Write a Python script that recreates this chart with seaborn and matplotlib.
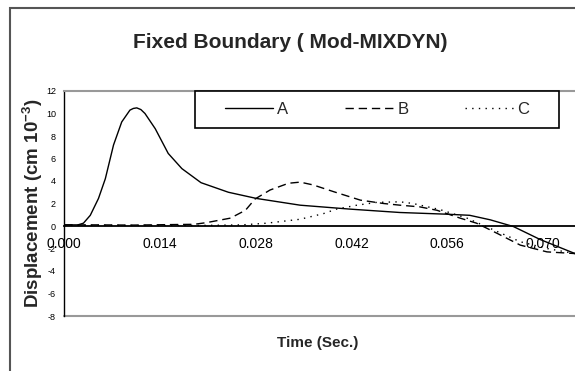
import numpy as np
import pandas as pd
import matplotlib
matplotlib.use("Agg")
import matplotlib.pyplot as plt
import seaborn as sns
from matplotlib.patches import Rectangle

# ---- data ----
time_a = [0.0, 0.002, 0.0028, 0.0038, 0.005, 0.006, 0.0072, 0.0084, 0.0096, 0.0101, 0.0106,
          0.0112, 0.0118, 0.0133, 0.0152, 0.0172, 0.0200, 0.0240, 0.0281, 0.0345, 0.0418,
          0.0491, 0.0559, 0.0593, 0.0623, 0.0657, 0.0696, 0.0747]
disp_a = [0.1, 0.1, 0.25, 0.95, 2.45, 4.2, 7.2, 9.25, 10.3, 10.45, 10.5,
          10.35, 10.0, 8.65, 6.45, 5.1, 3.85, 3.0, 2.45, 1.85, 1.5,
          1.2, 1.05, 0.95, 0.55, -0.05, -1.2, -2.45]

time_b = [0.0, 0.005, 0.010, 0.015, 0.019, 0.0208, 0.0243, 0.0265, 0.0279, 0.0301,
          0.0328, 0.0345, 0.0364, 0.0394, 0.0433, 0.0467, 0.0491, 0.052, 0.0545,
          0.0579, 0.0603, 0.0633, 0.0667, 0.0706, 0.0747]
disp_b = [0.1, 0.1, 0.08, 0.12, 0.15, 0.3, 0.7, 1.4, 2.4, 3.2,
          3.8, 3.9, 3.65, 3.05, 2.3, 2.0, 1.85, 1.7, 1.4,
          0.7, 0.25, -0.65, -1.7, -2.3, -2.45]

time_c = [0.0, 0.010, 0.020, 0.026, 0.0296, 0.0345, 0.0379, 0.0398, 0.0428, 0.0457,
          0.0491, 0.051, 0.055, 0.0589, 0.0628, 0.0667, 0.0706, 0.0747]
disp_c = [0.05, 0.05, 0.05, 0.1, 0.25, 0.6, 1.1, 1.5, 1.85, 2.1,
          2.15, 2.0, 1.45, 0.7, -0.35, -1.4, -2.0, -2.45]

series_names = ["A", "B", "C"]
x_ticks = [0.000, 0.014, 0.028, 0.042, 0.056, 0.070]
y_ticks = [12, 10, 8, 6, 4, 2, 0, -2, -4, -6, -8]

title = "Fixed Boundary ( Mod-MIXDYN)"
x_label = "Time (Sec.)"
y_label = r"Displacement (cm 10$^{\mathbf{-3}}$)"

# ---- build table ----
frames = []
for name, t, v in zip(series_names, [time_a, time_b, time_c], [disp_a, disp_b, disp_c]):
    frames.append(pd.DataFrame({"Time": t, "Disp": v, "Series": name}))
df = pd.concat(frames, ignore_index=True)

sns.set_style("white")
plt.rcParams["font.family"] = ["Liberation Sans", "DejaVu Sans"]
plt.rcParams["mathtext.fontset"] = "custom"
plt.rcParams["mathtext.bf"] = "Liberation Sans:bold"
plt.rcParams["mathtext.rm"] = "Liberation Sans"

W, H = 575, 371
fig = plt.figure(figsize=(W / 100, H / 100), dpi=100)
ax = fig.add_axes([64.3 / W, 1 - 316 / H, 1 - 64.3 / W, (316 - 91) / H])

styles = {"A": "-", "B": (0, (6, 3.5)), "C": (0, (1, 3.8))}
for name in series_names:
    sub = df[df["Series"] == name]
    sns.lineplot(data=sub, x="Time", y="Disp", ax=ax, color="black", lw=1.0,
                 linestyle=styles[name], label=name, sort=False)

ax.set_xlim(0, 0.0747)
ax.set_ylim(-8, 12)
ax.set_xticks(x_ticks)
ax.set_xticklabels([f"{t:.3f}" for t in x_ticks], fontsize=5.5)
ax.set_yticks(y_ticks)
ax.set_yticklabels([str(y) for y in y_ticks], fontsize=6.5)
ax.set_xlabel("")
ax.set_ylabel("")

ax.spines["right"].set_visible(False)
ax.spines["left"].set_color("black")
ax.spines["left"].set_linewidth(1.0)
ax.spines["top"].set_color("#999999")
ax.spines["top"].set_linewidth(1.5)
ax.spines["bottom"].set_position(("data", 0))
ax.spines["bottom"].set_color("black")
ax.spines["bottom"].set_linewidth(1.3)
ax.axhline(-8, color="#999999", lw=1.5, clip_on=False)

ax.tick_params(axis="both", direction="out", length=4, width=0.8, colors="black", pad=2)
ax.tick_params(axis="x", pad=4)

# legend box drawn as a rectangle, legend entries placed inside it
box = Rectangle((195 / W, 1 - 128 / H), (559 - 195) / W, (128 - 91) / H,
                transform=fig.transFigure, fill=True, facecolor="white",
                edgecolor="black", lw=1.2, zorder=5, clip_on=False)
ax.add_patch(box)
leg = ax.legend(ncol=3, loc="center left", bbox_to_anchor=(225 / W, 1 - 109.5 / H),
                bbox_transform=fig.transFigure, frameon=False, fontsize=12,
                handlelength=2.9, columnspacing=3.4, handletextpad=0.24,
                borderpad=0, borderaxespad=0)
leg.set_zorder(20)

fig.text(290 / W, 1 - 47.5 / H, title, ha="center", va="baseline",
         fontsize=15, fontweight="bold")
fig.text(318 / W, 1 - 343 / H, x_label, ha="center", va="center",
         fontsize=11, fontweight="bold")
fig.text(33 / W, 1 - 203 / H, y_label, ha="center", va="center",
         rotation=90, fontsize=13.5, fontweight="bold")

fig.patches.append(Rectangle((10 / W, -0.2), 1.2, 0.2 + (1 - 8 / H),
                             transform=fig.transFigure, fill=False,
                             edgecolor="#555555", lw=1.5, zorder=10))

fig.savefig("out.png", dpi=100, facecolor="white")
